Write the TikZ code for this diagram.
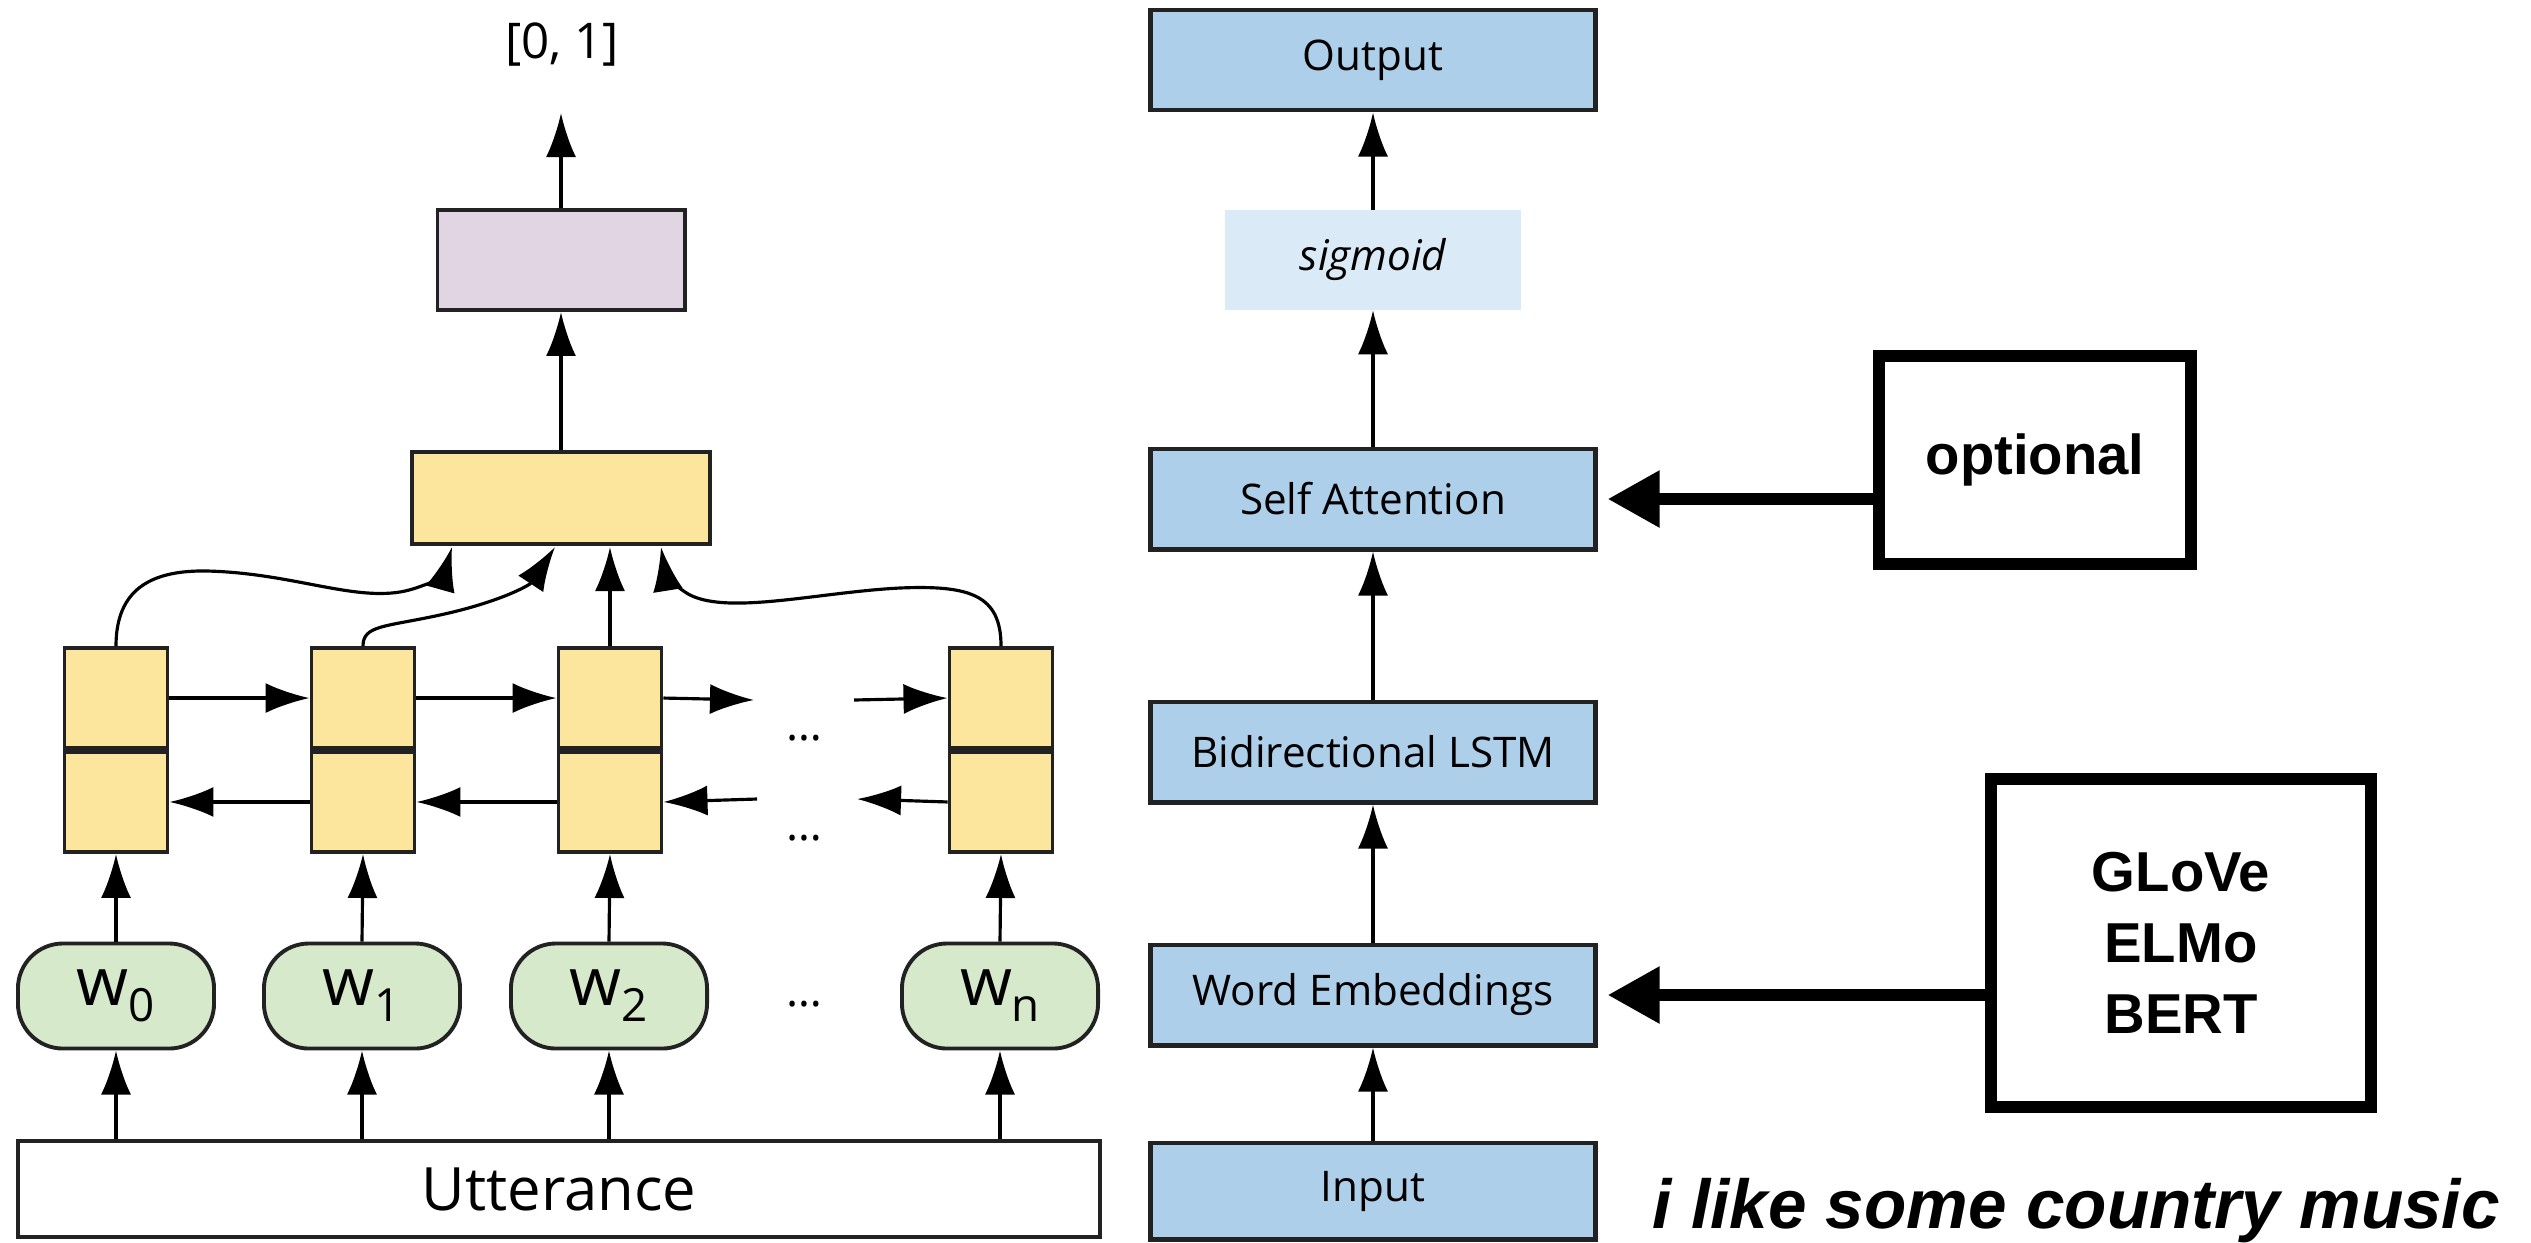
\documentclass[tikz,border=0pt]{standalone}
\usepackage{fontspec}
\setmainfont{Open Sans}
\newfontfamily\hv{Liberation Sans}
\usetikzlibrary{arrows.meta,calc}
\definecolor{yelc}{RGB}{252,229,157}
\definecolor{purc}{RGB}{225,213,228}
\definecolor{grnc}{RGB}{214,233,202}
\definecolor{bluc}{RGB}{174,207,234}
\definecolor{sigc}{RGB}{218,234,246}
\definecolor{edgec}{RGB}{34,34,34}
\newcommand{\wsub}[1]{\raisebox{-0.45ex}{\fontsize{13}{13}\selectfont #1}}
\begin{document}
\begin{tikzpicture}[x=0.01cm,y=-0.01cm,
  arr/.style={line width=0.9pt, -{Latex[length=4.4mm,width=3mm]}},
  bigarr/.style={line width=3.4pt, -{Triangle[length=5.2mm,width=5.4mm]}},
  cellbox/.style={draw=edgec, line width=1.1pt, fill=yelc, minimum width=1.03cm, minimum height=1cm, inner sep=0},
  wordbox/.style={draw=edgec, line width=1.1pt, fill=grnc, minimum width=1.96cm, minimum height=1.05cm, rounded corners=4.5mm, inner sep=0, font=\fontsize{19}{22}\selectfont},
  bluebox/.style={draw=edgec, line width=1.4pt, fill=bluc, minimum width=4.44cm, minimum height=1cm, inner sep=0, font=\fontsize{12}{14}\selectfont},
  sidebox/.style={draw=black, line width=3.4pt, inner sep=0, align=center, font=\hv\bfseries\fontsize{16}{20.2}\selectfont},
  dotlab/.style={font=\fontsize{13}{15}\selectfont, inner sep=0}
]
\useasboundingbox (0,0) rectangle (2531,1242);

% ---------- left diagram ----------
\node[font=\fontsize{14}{16}\selectfont] (lab) at (562,45) {[0, 1]};
\coordinate (labtip) at (561,113);
\node[draw=edgec, line width=1.1pt, fill=purc, minimum width=2.47cm, minimum height=1cm, inner sep=0] (pur) at (561,260) {};
\node[draw=edgec, line width=1.1pt, fill=yelc, minimum width=2.98cm, minimum height=0.92cm, inner sep=0] (att) at (561,498) {};
\draw[arr] (pur.north) -- (labtip);
\draw[arr] (att.north) -- (pur.south);

\foreach \n/\x in {0/116,1/363,2/610,n/1001}{
  \node[cellbox, anchor=south] (c\n-t) at (\x,750) {};
  \node[cellbox, anchor=north] (c\n-b) at (\x,750) {};
}
\node[wordbox] (w0) at (116,996) {w\wsub{0}};
\node[wordbox] (w1) at (362,996) {w\wsub{1}};
\node[wordbox] (w2) at (609,996) {w\wsub{2}};
\node[wordbox] (wn) at (1000,996) {w\wsub{n}};
\node[dotlab] (d1) at (804,738) {…};
\node[dotlab] (d2) at (804,838) {…};
\node[dotlab] (d3) at (804,1004) {…};

\node[draw=edgec, line width=1.1pt, minimum width=10.82cm, minimum height=0.96cm, inner sep=0, font=\fontsize{17}{20}\selectfont] (utt) at (559,1189) {Utterance};

% horizontal recurrent arrows
\coordinate (ft1) at (754,700);
\coordinate (ft2) at (854,700);
\coordinate (bt1) at (757,799);
\coordinate (bt2) at (857,799);
\draw[arr] (c0-t.east) -- (c1-t.west);
\draw[arr] (c1-t.east) -- (c2-t.west);
\draw[arr] (c2-t.east) -- (ft1);
\draw[arr] (ft2) -- (cn-t.west);
\draw[arr] (c1-b.west) -- (c0-b.east);
\draw[arr] (c2-b.west) -- (c1-b.east);
\draw[arr] (bt1) -- (c2-b.east);
\draw[arr] (cn-b.west) -- (bt2);

% vertical arrows
\foreach \n/\w in {0/w0,1/w1,2/w2,n/wn}{
  \draw[arr] (\w.north) -- (c\n-b.south);
  \draw[arr] (utt.north -| \w) -- (\w.south);
}

% attention curves
\coordinate (a0) at (452,547);
\coordinate (a1) at (555,547);
\coordinate (a2) at (610,547);
\coordinate (a3) at (661,547);
\draw[arr] (c0-t.north) .. controls (116,590) and (150,570) .. (207,571)
  .. controls (290,573) and (350,600) .. (400,592)
  .. controls (425,588) and (445,572) .. (a0);
\draw[arr] (c1-t.north) .. controls (363,625) and (385,627) .. (440,615)
  .. controls (500,602) and (530,585) .. (a1);
\draw[arr] (c2-t.north) -- (a2);
\draw[arr] (cn-t.north) .. controls (1001,595) and (970,585) .. (900,588)
  .. controls (820,592) and (730,615) .. (690,595)
  .. controls (675,587) and (665,572) .. (a3);

% ---------- right diagram ----------
\node[bluebox] (out) at (1373,60) {Output};
\node[fill=sigc, minimum width=2.95cm, minimum height=0.99cm, inner sep=0, font=\fontsize{12}{14}\selectfont\itshape] (sig) at (1373,260) {sigmoid};
\node[bluebox] (sa) at (1373,499) {Self Attention};
\node[bluebox] (lstm) at (1373,752) {Bidirectional LSTM};
\node[bluebox] (we) at (1373,995) {Word Embeddings};
\node[bluebox, minimum height=0.96cm] (inp) at (1373,1191) {Input};

\draw[arr] (inp.north) -- (we.south);
\draw[arr] (we.north) -- (lstm.south);
\draw[arr] (lstm.north) -- (sa.south);
\draw[arr] (sa.north) -- (sig.south);
\draw[arr] (sig.north) -- (out.south);

\node[sidebox, minimum width=3.11cm, minimum height=2.07cm] (opt) at (2035,460) {optional};
\node[sidebox, minimum width=3.79cm, minimum height=3.28cm] (emb) at (2181,943) {GLoVe\\ELMo\\BERT};

\draw[bigarr, shorten >=1mm] (sa.east -| opt.west) -- (sa.east);
\draw[bigarr, shorten >=1mm] (we.east -| emb.west) -- (we.east);

\node[anchor=base west, inner sep=0, font=\hv\bfseries\itshape\fontsize{19.7}{22}\selectfont] (sent) at (1652,1228) {i like some country music};
\end{tikzpicture}
\end{document}
